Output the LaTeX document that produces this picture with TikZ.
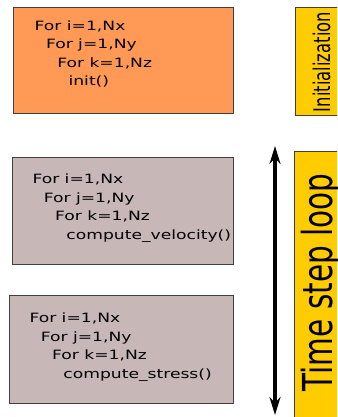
\documentclass[tikz,border=0pt]{standalone}
\usepackage{fontspec}
\setmainfont{DejaVu Sans}
\newfontfamily\codefont[FakeStretch=1.34]{DejaVu Sans}
\usetikzlibrary{arrows.meta,positioning}
\definecolor{initOrange}{HTML}{FF9955}
\definecolor{loopGrey}{HTML}{C8B7B7}
\definecolor{phaseYellow}{HTML}{FFCC00}
\newcommand{\ind}[1]{\hspace*{#1\dimexpr 11.3pt\relax}}

\begin{document}
\begin{tikzpicture}[x=1pt, y=-1pt,
        kernel/.style={rectangle, draw=black!75, line width=1.2pt, anchor=north west, inner sep=0pt},
        code/.style={anchor=north west, inner sep=0pt, align=left, font=\codefont\fontsize{12.8}{18.5}\selectfont},
        phase/.style={rectangle, draw=black!75, line width=1pt, fill=phaseYellow, anchor=north west, inner sep=0pt},
        phaselabel/.style={rotate=90, anchor=base, inner sep=0pt},
        arrow/.style={{Stealth[length=18pt,width=11pt]}-{Stealth[length=18pt,width=11pt]}, line width=4pt}
    ]
        \useasboundingbox (0,0) rectangle (337,417);
        \clip (0,0) rectangle (337,417);

        % Initialization kernel
        \node[kernel, fill=initOrange, minimum width=220pt, minimum height=106pt] (init) at (13,7) {};
        \node[code] (initcode) at (34.5,20.5) {For i=1,Nx\\ \ind{1}For j=1,Ny\\ \ind{2}For k=1,Nz\\ \ind{3}init()};

        % Velocity kernel
        \node[kernel, fill=loopGrey, minimum width=221pt, minimum height=107pt] (velocity) at (12,157) {};
        \node[code] (velocitycode) at (32.3,174) {For i=1,Nx\\ \ind{1}For j=1,Ny\\ \ind{2}For k=1,Nz\\ \ind{3}compute\_velocity()};

        % Stress kernel
        \node[kernel, fill=loopGrey, minimum width=224pt, minimum height=108pt] (stress) at (9,295) {};
        \node[code] (stresscode) at (29.3,313) {For i=1,Nx\\ \ind{1}For j=1,Ny\\ \ind{2}For k=1,Nz\\ \ind{3}compute\_stress()};

        % Phases
        \node[phase, minimum width=60pt, minimum height=108pt] (initphase) at (295,7) {};
        \node[phaselabel, font=\fontsize{16.4}{18}\selectfont] (initlabel) at (330,62) {\scalebox{1}[1.4]{Initialization}};
        \node[phase, minimum width=60pt, minimum height=280pt] (loopphase) at (294,151) {};
        \node[phaselabel, font=\fontsize{29.5}{32}\selectfont] (looplabel) at (332,282.5) {\scalebox{1}[1.4]{Time step loop}};

        % Loop arrow
        \coordinate (looptop) at (275,146);
        \coordinate (loopbottom) at (275,415);
        \draw[arrow] (loopbottom) -- (looptop);

    \end{tikzpicture}
\end{document}
